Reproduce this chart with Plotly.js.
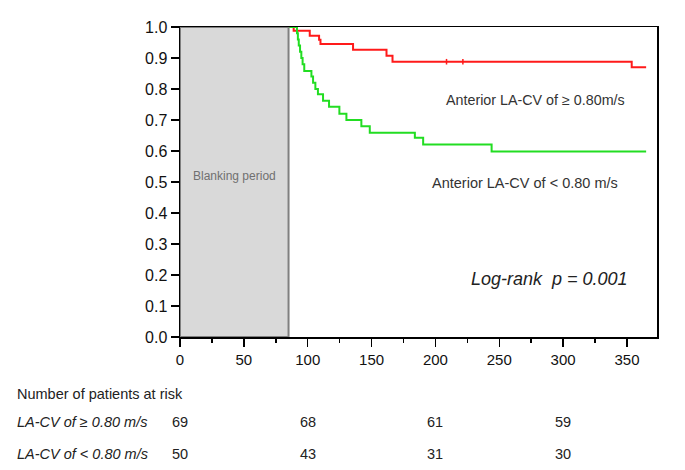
<!DOCTYPE html>
<html>
<head>
<meta charset="utf-8">
<script src="https://cdn.plot.ly/plotly-3.0.1.min.js"></script>
<style>
  html, body { margin: 0; padding: 0; background: #fff; }
  #chart { width: 685px; height: 470px; }
</style>
</head>
<body>
<div id="chart"></div>
<script>
// Kaplan-Meier estimates (days, survival)
var highTime = [85, 89, 101.6, 108.9, 110, 135.5, 161.7, 166.4, 353.7, 365];
var highSurv = [1.0, 0.988, 0.972, 0.959, 0.945, 0.927, 0.907, 0.888, 0.870, 0.870];
var lowTime = [85, 91.6, 92.3, 93, 94, 95, 96, 97.3, 102.9, 104.2, 106, 108, 112, 116.7, 124.8, 130.3, 142, 148.6, 183.9, 190.4, 244, 365];
var lowSurv = [1.0, 0.98, 0.96, 0.94, 0.92, 0.90, 0.88, 0.858, 0.84, 0.82, 0.80, 0.783, 0.762, 0.743, 0.72, 0.70, 0.68, 0.659, 0.643, 0.621, 0.598, 0.598];
var highCensorTime = [208.7, 221.5];
var highCensorSurv = [0.888, 0.888];

// numbers at risk
var riskDays = [0, 100, 200, 300];
var riskHigh = [69, 68, 61, 59];
var riskLow = [50, 43, 31, 30];
var riskLabels = ['LA-CV of \u2265 0.80 m/s', 'LA-CV of < 0.80 m/s'];

var blankStart = 0, blankEnd = 85;

var font = 'Liberation Sans, Arial, sans-serif';

var data = [
  {
    x: highTime, y: highSurv, type: 'scatter', mode: 'lines',
    line: {color: '#ff1a1a', width: 2, shape: 'hv'}, hoverinfo: 'skip'
  },
  {
    x: lowTime, y: lowSurv, type: 'scatter', mode: 'lines',
    line: {color: '#22dd22', width: 2, shape: 'hv'}, hoverinfo: 'skip'
  },
  {
    x: highCensorTime, y: highCensorSurv, type: 'scatter', mode: 'markers',
    marker: {symbol: 'line-ns', size: 4, line: {color: '#ff1a1a', width: 1.5}}, hoverinfo: 'skip'
  }
];

var txt = {family: font, size: 14.5, color: '#222'};

var annotations = [
  {x: (blankStart + blankEnd) / 2, y: 0.52, xref: 'x', yref: 'y', text: 'Blanking period', showarrow: false,
   font: {family: 'Liberation Sans Narrow, Liberation Sans, Arial', size: 12, color: '#707070'}},
  {x: 0.937, y: 0.797, xref: 'paper', yref: 'paper', xanchor: 'right', text: 'Anterior LA-CV of \u2265 0.80m/s', showarrow: false,
   font: {family: font, size: 14.3, color: '#333'}},
  {x: 0.922, y: 0.497, xref: 'paper', yref: 'paper', xanchor: 'right', text: 'Anterior LA-CV of < 0.80 m/s', showarrow: false,
   font: {family: font, size: 14.5, color: '#333'}},
  {x: 0.943, y: 0.148, xref: 'paper', yref: 'paper', xanchor: 'right', text: '<i>Log-rank  p = 0.001</i>', showarrow: false,
   font: {family: font, size: 18, color: '#222'}},
  {x: -0.345, y: -0.215, xref: 'paper', yref: 'paper', xanchor: 'left', text: 'Number of patients at risk', showarrow: false,
   font: txt},
  {x: -0.345, y: -0.305, xref: 'paper', yref: 'paper', xanchor: 'left', text: '<i>' + riskLabels[0] + '</i>', showarrow: false,
   font: txt},
  {x: -0.345, y: -0.41, xref: 'paper', yref: 'paper', xanchor: 'left', text: '<i>' + riskLabels[1] + '</i>', showarrow: false,
   font: txt}
];
riskDays.forEach(function(d, i) {
  annotations.push({x: d, y: -0.305, xref: 'x', yref: 'paper', text: String(riskHigh[i]), showarrow: false, font: txt});
  annotations.push({x: d, y: -0.41, xref: 'x', yref: 'paper', text: String(riskLow[i]), showarrow: false, font: txt});
});

var layout = {
  width: 685, height: 470,
  margin: {l: 180, r: 28, t: 27, b: 133},
  paper_bgcolor: '#fff', plot_bgcolor: '#fff',
  showlegend: false,
  font: {family: font, size: 15, color: '#111'},
  xaxis: {
    range: [0, 373.5], tickvals: [0, 50, 100, 150, 200, 250, 300, 350],
    showgrid: false, zeroline: false, showline: true, linecolor: '#000', linewidth: 1.5, mirror: true,
    ticks: 'outside', ticklen: 8, tickwidth: 1.5, tickcolor: '#000',
    minor: {tickvals: [25, 75, 125, 175, 225, 275, 325], ticks: 'outside', ticklen: 4, tickwidth: 1.5, tickcolor: '#000'},
    tickfont: {size: 15}
  },
  yaxis: {
    range: [0, 1], dtick: 0.1, tickformat: '.1f',
    showgrid: false, zeroline: false, showline: true, linecolor: '#000', linewidth: 1.5, mirror: true,
    ticks: 'outside', ticklen: 8, tickwidth: 1.5, tickcolor: '#000',
    tickfont: {size: 16}
  },
  shapes: [
    {type: 'rect', xref: 'x', yref: 'y', x0: blankStart, x1: blankEnd, y0: 0, y1: 1, layer: 'above',
     fillcolor: '#d9d9d9', line: {color: '#808080', width: 2}}
  ],
  annotations: annotations
};

Plotly.newPlot('chart', data, layout, {displayModeBar: false, staticPlot: true});
</script>
</body>
</html>
